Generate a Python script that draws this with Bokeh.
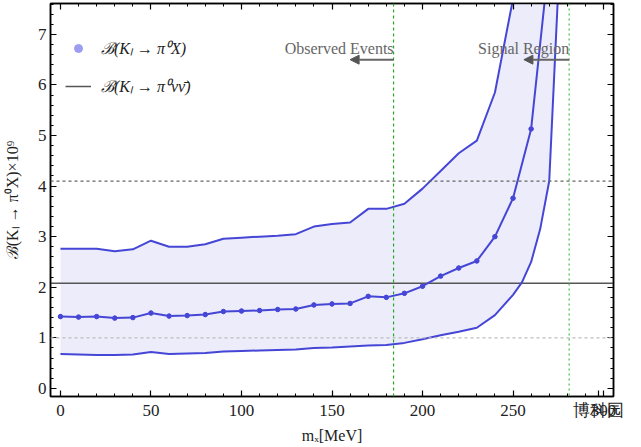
from bokeh.plotting import figure
from bokeh.models import (Range1d, LinearAxis, SingleIntervalTicker, FixedTicker, Span,
                          Label, Arrow, NormalHead, Legend, LegendItem, AllLabels)
from bokeh.embed import file_html
from bokeh.resources import INLINE

# ---------------- data ----------------
mx_mid = [0, 10, 20, 30, 40, 50, 60, 70, 80, 90, 100, 110, 120, 130, 140, 150, 160,
          170, 180, 190, 200, 210, 220, 230, 240, 250, 260, 270]
br_mid = [1.42, 1.41, 1.42, 1.39, 1.40, 1.49, 1.43, 1.44, 1.46, 1.52, 1.53, 1.54, 1.56,
          1.57, 1.65, 1.67, 1.68, 1.82, 1.80, 1.88, 2.02, 2.22, 2.38, 2.52, 3.00, 3.76,
          5.13, 8.50]

mx_up = [0, 10, 20, 30, 40, 50, 60, 70, 80, 90, 100, 110, 120, 130, 140, 150, 160,
         170, 180, 190, 200, 210, 220, 230, 240, 250]
br_up = [2.76, 2.76, 2.76, 2.71, 2.75, 2.92, 2.80, 2.80, 2.85, 2.96, 2.98, 3.00, 3.02,
         3.05, 3.20, 3.25, 3.28, 3.55, 3.55, 3.65, 3.95, 4.30, 4.65, 4.90, 5.85, 7.70]

mx_lo = [0, 10, 20, 30, 40, 50, 60, 70, 80, 90, 100, 110, 120, 130, 140, 150, 160,
         170, 180, 190, 200, 210, 220, 230, 240, 250, 255, 260, 265, 270, 280]
br_lo = [0.68, 0.67, 0.66, 0.66, 0.67, 0.72, 0.68, 0.69, 0.70, 0.73, 0.74, 0.75, 0.76,
         0.77, 0.80, 0.81, 0.83, 0.85, 0.86, 0.90, 0.97, 1.05, 1.12, 1.20, 1.45, 1.85,
         2.10, 2.50, 3.15, 4.10, 11.7]

sm_value = 2.08        # B(K_L -> pi0 nu nubar) x 10^9
dashed_upper = 4.1
dashed_lower = 1.0
observed_edge = 184
signal_edge = 281

x_ticks = [0, 50, 100, 150, 200, 250, 300]
x_minor_ticks = [10, 20, 30, 40, 60, 70, 80, 90, 110, 120, 130, 140, 160, 170, 180,
                 190, 210, 220, 230, 240, 260, 270, 280, 290]

x_label = "mₓ[MeV]"
y_label = "ℬ(Kₗ → π⁰X)×10⁹"
legend_labels = ["ℬ(Kₗ → π⁰X)", "ℬ(Kₗ → π⁰νν̄)"]
region_labels = ["Observed Events", "Signal Region"]
watermark = "博科园"
watermark_at = 297

# ---------------- figure ----------------
SERIF = "Liberation Serif"
BLUE = "#4646d6"

p = figure(frame_width=563, frame_height=393, output_backend="svg",
           toolbar_location=None,
           x_range=Range1d(-5.5, 305.5), y_range=Range1d(-0.16, 7.61),
           min_border_left=49, min_border_right=20, min_border_top=3,
           min_border_bottom=40)
p.grid.visible = False
p.outline_line_color = "black"
p.outline_line_width = 1.5

xt = SingleIntervalTicker(interval=50, num_minor_ticks=5)
yt = SingleIntervalTicker(interval=1, num_minor_ticks=5)
xt_bottom = FixedTicker(ticks=x_ticks + [watermark_at], minor_ticks=x_minor_ticks)

def style_axis(ax, labels=True):
    ax.major_tick_in = 6
    ax.major_tick_out = 0
    ax.minor_tick_in = 3
    ax.minor_tick_out = 0
    ax.axis_line_color = "black"
    ax.axis_line_width = 1.5
    ax.major_tick_line_color = "black"
    ax.minor_tick_line_color = "black"
    ax.major_tick_line_width = 1.2
    ax.major_label_text_font = SERIF
    if labels:
        ax.major_label_text_font_size = "17px"
        ax.major_label_text_color = "#222222"
        ax.major_label_standoff = 4
    else:
        ax.major_label_text_font_size = "1px"
        ax.major_label_text_color = None
        ax.major_label_standoff = 0
    ax.axis_label_text_font = SERIF
    ax.axis_label_text_font_size = "16px"
    ax.axis_label_text_font_style = "normal"
    ax.axis_label_text_color = "#222222"
    ax.axis_label_standoff = 4

p.xaxis.ticker = xt_bottom
p.yaxis.ticker = yt
style_axis(p.xaxis[0])
style_axis(p.yaxis[0])
p.yaxis.axis_label_standoff = 14
p.xaxis.axis_label = x_label
p.yaxis.axis_label = y_label
# the watermark sits in the tick-label row, over the last tick label
p.xaxis.major_label_overrides = {watermark_at: watermark}
p.xaxis.major_label_policy = AllLabels()

top = LinearAxis(ticker=xt)
right = LinearAxis(ticker=yt)
style_axis(top, labels=False)
style_axis(right, labels=False)
p.add_layout(top, "above")
p.add_layout(right, "right")

# band between upper and lower curves
px = mx_up + mx_lo[::-1]
py = br_up + br_lo[::-1]
p.patch(px, py, fill_color="#ececfa", line_color=None)

# reference lines
p.add_layout(Span(location=dashed_upper, dimension="width", line_color="#666666",
                  line_dash="3 3", line_width=1.2))
p.add_layout(Span(location=dashed_lower, dimension="width", line_color="#bbbbbb",
                  line_dash="3 3", line_width=1.2))
sm_line = p.line([-5.5, 305.5], [sm_value, sm_value], line_color="#555555",
                 line_width=1.5)
p.add_layout(Span(location=observed_edge, dimension="height", line_color="#22aa22",
                  line_dash="3 3", line_width=1.2))
p.add_layout(Span(location=signal_edge, dimension="height", line_color="#44bb44",
                  line_dash="2 3", line_width=1.2))

# curves
p.line(mx_up, br_up, line_color=BLUE, line_width=2)
p.line(mx_lo, br_lo, line_color=BLUE, line_width=2)
p.line(mx_mid, br_mid, line_color=BLUE, line_width=2)
# light marker used for the legend entry; covered by the blue markers on the plot
leg_dot = p.scatter(mx_mid, br_mid, size=4, color="#9c9cf0")
p.scatter(mx_mid, br_mid, size=4.5, color=BLUE)

legend = Legend(items=[LegendItem(label=legend_labels[0], renderers=[leg_dot]),
                       LegendItem(label=legend_labels[1], renderers=[sm_line])],
                location=(15, 299), background_fill_alpha=0, border_line_color=None,
                label_text_font=SERIF, label_text_font_style="italic",
                label_text_font_size="16px", label_text_color="#222222",
                glyph_width=26, spacing=16, label_standoff=10, padding=10,
                margin=0)
p.add_layout(legend)

# region annotations
arrow_y = 6.5
text_y = 6.72
for edge, lab, start in [(observed_edge, region_labels[0], 160),
                         (signal_edge, region_labels[1], 256)]:
    p.add_layout(Label(x=edge, y=text_y, text=lab, text_align="right",
                       text_baseline="middle", text_font=SERIF,
                       text_font_size="16px", text_color="#666666"))
    p.add_layout(Arrow(x_start=edge, y_start=arrow_y, x_end=start, y_end=arrow_y,
                       line_color="#666666", line_width=2,
                       end=NormalHead(size=9, fill_color="#555555",
                                      line_color="#555555")))

open("out.html", "w").write(file_html(p, INLINE))
